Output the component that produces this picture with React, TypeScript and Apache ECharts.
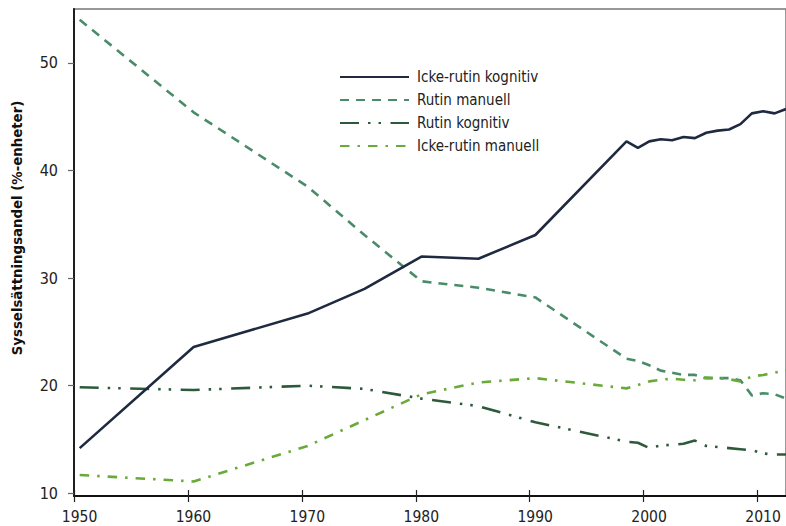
import React, { useEffect, useRef } from "react";
import * as echarts from "echarts";

const years = [1950, 1960, 1970, 1975, 1980, 1985, 1990, 1998, 1999, 2000, 2001, 2002, 2003, 2004, 2005, 2006, 2007, 2008, 2009, 2010, 2011, 2012];

const ickeRutinKognitiv = [14.2, 23.6, 26.7, 29.0, 32.0, 31.8, 34.0, 42.7, 42.1, 42.7, 42.9, 42.8, 43.1, 43.0, 43.5, 43.7, 43.8, 44.3, 45.3, 45.5, 45.3, 45.7];
const rutinManuell = [54.0, 45.4, 38.5, 34.0, 29.7, 29.1, 28.2, 22.5, 22.3, 21.9, 21.4, 21.2, 21.0, 21.0, 20.7, 20.7, 20.7, 20.5, 19.1, 19.3, 19.2, 18.8];
const rutinKognitiv = [19.85, 19.6, 20.0, 19.7, 18.8, 18.1, 16.6, 14.8, 14.7, 14.2, 14.45, 14.5, 14.6, 14.9, 14.4, 14.3, 14.2, 14.1, 14.0, 13.7, 13.6, 13.6];
const ickeRutinManuell = [11.7, 11.1, 14.4, 16.8, 19.2, 20.3, 20.7, 19.75, 20.05, 20.4, 20.55, 20.65, 20.55, 20.5, 20.75, 20.7, 20.6, 20.4, 20.85, 21.0, 21.2, 21.45];

const xTicks = [1950, 1960, 1970, 1980, 1990, 2000, 2010];
const yTicks = [10, 20, 30, 40, 50];

const seriesNames = ["Icke-rutin kognitiv", "Rutin manuell", "Rutin kognitiv", "Icke-rutin manuell"];
const yTitle = "Sysselsättningsandel (%-enheter)";

const FONT = "'Liberation Sans Narrow', 'DejaVu Sans Condensed', 'Arial Narrow', sans-serif";

// data points sit at mid-year
const toPoints = (vals: number[]) => years.map((y, i) => [y + 0.5, vals[i]]);

export default function App() {
  const ref = useRef<HTMLDivElement>(null);
  useEffect(() => {
    if (!ref.current) return;
    const chart = echarts.init(ref.current, undefined, { renderer: "svg" });
    const lw = 2.6;
    chart.setOption({
      animation: false,
      backgroundColor: "#ffffff",
      textStyle: { fontFamily: FONT },
      grid: { left: 74, right: 0, top: 9, bottom: 30, show: true, borderColor: "#777", borderWidth: 1.5, backgroundColor: "transparent" },
      legend: {
        orient: "vertical",
        left: 334,
        top: 63,
        itemWidth: 69,
        itemHeight: 14,
        itemGap: 5,
        data: seriesNames,
        itemStyle: { opacity: 0 },
        textStyle: { fontSize: 15, lineHeight: 18, color: "#222", fontFamily: FONT, padding: [0, 0, 0, 3] },
      },
      xAxis: [
        {
          type: "value",
          min: 1950,
          max: 2012.5,
          interval: 10,
          axisLine: { show: true, lineStyle: { color: "#111", width: 1.8 } },
          axisTick: { show: true, inside: false, length: 6, customValues: xTicks, lineStyle: { color: "#222", width: 1.2 } },
          axisLabel: {
            customValues: xTicks,
            formatter: (v: number) => String(v),
            fontSize: 15.5,
            color: "#222",
            margin: 13,
            padding: [0, 0, 0, 11],
            fontFamily: FONT,
          },
          splitLine: { show: false },
        },
        {
          type: "value",
          min: 1950,
          max: 2012.5,
          interval: 10,
          position: "bottom",
          axisLine: { show: false },
          axisTick: { show: true, inside: true, length: 6, customValues: xTicks, lineStyle: { color: "#222", width: 1.2 } },
          axisLabel: { show: false },
          splitLine: { show: false },
        },
      ],
      yAxis: {
        type: "value",
        min: 9.75,
        max: 55,
        axisLine: { show: true, lineStyle: { color: "#111", width: 1.8 } },
        axisTick: { show: true, length: 6, customValues: yTicks, lineStyle: { color: "#666", width: 1.2 } },
        axisLabel: { customValues: yTicks, formatter: (v: number) => String(v), fontSize: 16, color: "#222", margin: 16, fontFamily: FONT },
        splitLine: { show: false },
      },
      graphic: [
        {
          type: "text",
          x: 16,
          y: 228,
          rotation: Math.PI / 2,
          style: {
            text: yTitle,
            fontSize: 14.8,
            fontWeight: "bold",
            fontFamily: FONT,
            fill: "#111",
            align: "center",
            verticalAlign: "middle",
            textAlign: "center",
            textVerticalAlign: "middle",
          },
        },
      ],
      series: [
        {
          name: seriesNames[0],
          type: "line",
          data: toPoints(ickeRutinKognitiv),
          symbol: "none",
          lineStyle: { color: "#1f2a40", width: lw, type: "solid" },
          itemStyle: { color: "#1f2a40" },
          z: 5,
        },
        {
          name: seriesNames[1],
          type: "line",
          data: toPoints(rutinManuell),
          symbol: "none",
          lineStyle: { color: "#4a8c6a", width: lw, type: [9, 7] },
          itemStyle: { color: "#4a8c6a" },
        },
        {
          name: seriesNames[2],
          type: "line",
          data: toPoints(rutinKognitiv),
          symbol: "none",
          lineStyle: { color: "#2e5a3c", width: lw, type: [19, 9, 2.5, 8, 2.5, 9.5] },
          itemStyle: { color: "#2e5a3c" },
        },
        {
          name: seriesNames[3],
          type: "line",
          data: toPoints(ickeRutinManuell),
          symbol: "none",
          lineStyle: { color: "#6aaa38", width: lw, type: [9.5, 8, 2.5, 8] },
          itemStyle: { color: "#6aaa38" },
        },
      ],
    });
    return () => chart.dispose();
  }, []);
  return <div ref={ref} style={{ position: "fixed", left: 0, top: 0, width: 786, height: 526 }} />;
}
